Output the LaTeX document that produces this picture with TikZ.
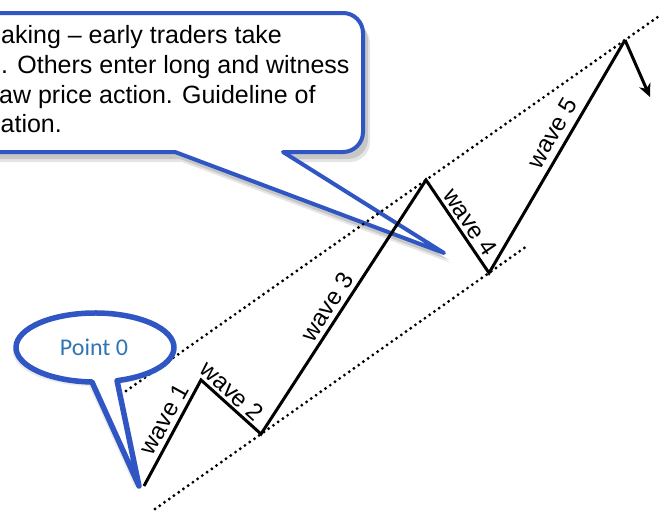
\documentclass[tikz,border=0pt]{standalone}
\usepackage{fontspec}
\setmainfont{Liberation Sans}
\newfontfamily\calibrifont{Carlito}
\usetikzlibrary{arrows.meta}
\definecolor{calloutblue}{RGB}{48,86,196}
\definecolor{labelblue}{RGB}{46,117,182}
\begin{document}
\begin{tikzpicture}[x=1pt,y=-1pt,
  wave/.style={line width=3pt, line join=miter},
  guide/.style={line width=3.2pt, dash pattern=on 0pt off 5.8pt, line cap=round},
  wavelabel/.style={font=\fontsize{24}{24}\selectfont, inner sep=0pt},
  callouttext/.style={anchor=base west, inner sep=0pt, font=\fontsize{25}{30}\selectfont},
  calloutborder/.style={draw=calloutblue, fill=white, line join=round},
  % rectangular speech bubble, left part runs off the page
  bigcallout/.style={insert path={(283,152) -- (444,253) -- (175,152) -- (-40,152) -- (-40,13) -- (343,13)
     .. controls (354,13) and (363,22) .. (363,33) -- (363,132)
     .. controls (363,143) and (354,152) .. (343,152) -- cycle}},
  % oval speech bubble with its pointer
  ovalcallout/.style={insert path={(117.04,380.62) arc[start angle=73.8, end angle=-267.8, x radius=79, y radius=34.5]
     -- (139,486) -- cycle}}
]
\useasboundingbox (0,0) rectangle (660,514);
\clip (0,0) rectangle (660,514);

% ---- text bubble with shadow ----
\fill[black!10, shift={(7,10)}, bigcallout];
\fill[black!22, shift={(5,7)}, bigcallout];
\path[calloutborder, line width=4pt, bigcallout];
\node[callouttext] (t1) at (1,43.5) {aking – early traders take};
\node[callouttext] (t2) at (1,73.5) {. Others enter long and witness};
\node[callouttext] (t3) at (-1,103) {aw price action. Guideline of};
\node[callouttext] (t4) at (0.5,132.5) {ation.};

% ---- wave points ----
\coordinate (p0) at (144,486);
\coordinate (p1) at (201,380);
\coordinate (p2) at (261,434);
\coordinate (p3) at (426,180);
\coordinate (p4) at (489,273);
\coordinate (p5) at (625,40);
\coordinate (pend) at (650,97);

% ---- channel guidelines ----
\coordinate (gu1) at (126,391);
\coordinate (gu2) at (662,14);
\coordinate (gl1) at (155,509);
\coordinate (gl2) at (527,246);
\draw[guide] (gu1) -- (gu2);
\draw[guide] (gl1) -- (gl2);

% ---- impulse waves ----
\draw[wave] (p0) -- (p1) -- (p2) -- (p3) -- (p4) -- (p5);
\draw[wave, -{Stealth[length=13pt, width=12pt, inset=4pt]}] (p5) -- (pend);

\node[wavelabel, rotate=61] (w1) at (164,419) {wave 1};
\node[wavelabel, rotate=-42] (w2) at (232,391) {wave 2};
\node[wavelabel, rotate=57] (w3) at (327,307) {wave 3};
\node[wavelabel, rotate=-56] (w4) at (470,222) {wave 4};
\node[wavelabel, rotate=60] (w5) at (552,133) {wave 5};

% ---- "Point 0" bubble ----
\fill[black!8, shift={(-3,4)}, ovalcallout];
\path[calloutborder, line width=5.5pt, ovalcallout];
\node[font=\calibrifont\fontsize{24}{24}\selectfont, text=labelblue, inner sep=0pt] (pt0) at (94,347) {Point 0};
\end{tikzpicture}
\end{document}
